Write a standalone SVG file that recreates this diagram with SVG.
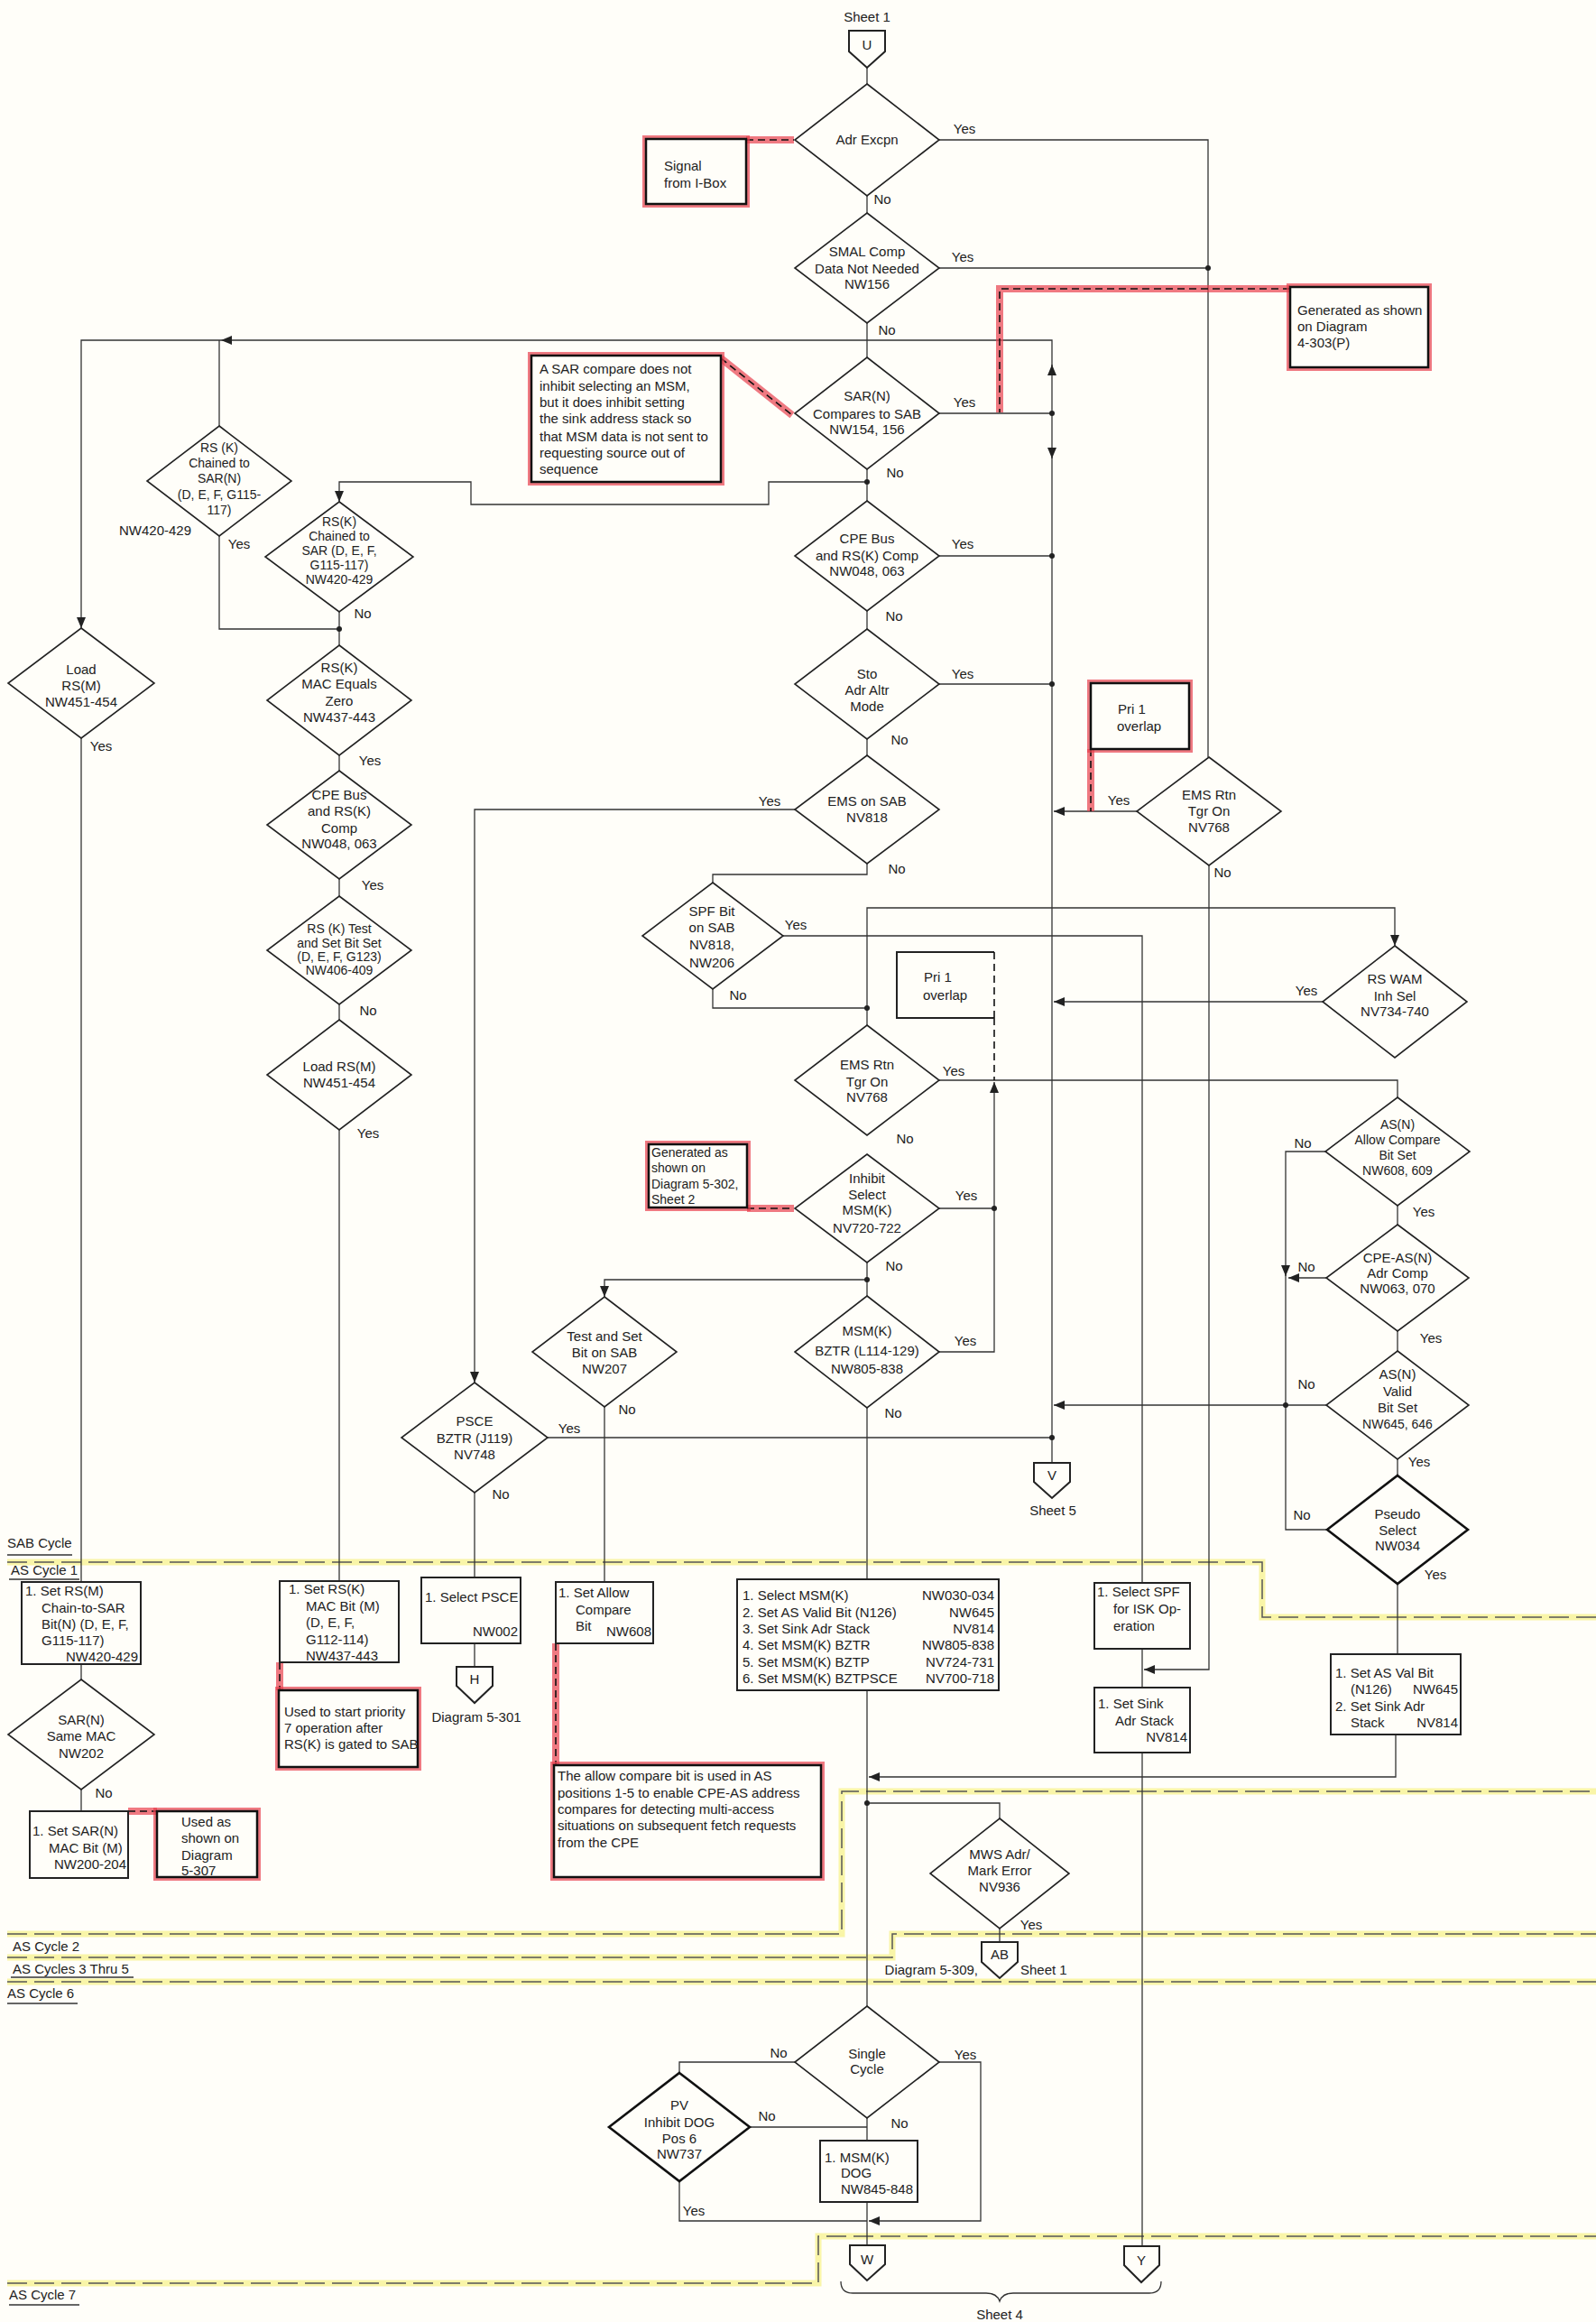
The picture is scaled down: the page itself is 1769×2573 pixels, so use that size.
<svg xmlns="http://www.w3.org/2000/svg" width="1769" height="2573" viewBox="0 0 1769 2573">
<style>
text{font-family:"Liberation Sans",Arial,sans-serif;font-size:15px;fill:#222}
.c{text-anchor:middle}
.e{text-anchor:end}
.s{font-size:14px}
.dm{fill:#fffef9;stroke:#222;stroke-width:1.6}
.dmb{fill:#fffef9;stroke:#111;stroke-width:2.6}
.bx{fill:#fffef9;stroke:#222;stroke-width:2}
.ln{fill:none;stroke:#333;stroke-width:1.3}
.rd{fill:none;stroke:#e8404f;stroke-width:8;stroke-opacity:.7}
.nb{fill:#fffef9;stroke:#111;stroke-width:2.5}
.dash{fill:none;stroke:#111;stroke-width:1.6;stroke-dasharray:8 5}
.yl{fill:none;stroke:#f6f07c;stroke-width:7;stroke-opacity:.65}
.kd{fill:none;stroke:#555;stroke-width:1.5;stroke-dasharray:22 8}
.dot{fill:#222}
.ul{fill:none;stroke:#333;stroke-width:1.3}
</style>
<defs>
<marker id="a" viewBox="0 0 12 10" refX="12" refY="5" markerWidth="12" markerHeight="10" markerUnits="userSpaceOnUse" orient="auto"><path d="M0,0 L12,5 L0,10 z" fill="#222"/></marker>
</defs>
<rect width="1769" height="2573" fill="#fffef9"/>

<g id="cycles">
<path class="yl" d="M8,1731 H1399 V1792 H1769"/><path class="kd" d="M8,1731 H1399 V1792 H1769"/>
<path class="yl" d="M8,2143 H933 V1985 H1769"/><path class="kd" d="M8,2143 H933 V1985 H1769"/>
<path class="yl" d="M8,2169 H989 V2143 H1769"/><path class="kd" d="M8,2169 H989 V2143 H1769"/>
<path class="yl" d="M8,2196 H1769"/><path class="kd" d="M8,2196 H1769"/>
<path class="yl" d="M8,2530 H907 V2478 H1769"/><path class="kd" d="M8,2530 H907 V2478 H1769"/>
<text x="8" y="1715">SAB Cycle</text><path class="ul" d="M8,1723 H80"/>
<text x="12" y="1745">AS Cycle 1</text><path class="ul" d="M10,1750 H88"/>
<text x="14" y="2162">AS Cycle 2</text>
<text x="14" y="2187">AS Cycles 3 Thru 5</text><path class="ul" d="M12,2191 H148"/>
<text x="8" y="2214">AS Cycle 6</text><path class="ul" d="M8,2220 H86"/>
<text x="10" y="2548">AS Cycle 7</text><path class="ul" d="M10,2554 H88"/>
</g>

<g id="connectors">
<path class="ln" d="M961,75 V93"/>
<path class="ln" d="M961,217 V236"/>
<path class="ln" d="M961,358 V396"/>
<path class="ln" d="M961,520 V555"/>
<path class="ln" d="M961,677 V697"/>
<path class="ln" d="M961,819 V837"/>
<path class="ln" d="M961,957 V969 H790 V978"/>
<path class="ln" d="M790,1096 V1117 H961"/>
<path class="ln" d="M961,1117 V1006 H1546 V1048" marker-end="url(#a)"/>
<path class="ln" d="M961,1117 V1136"/>
<path class="ln" d="M1041,1197 H1549 V1216"/>
<path class="ln" d="M1102,1339 V1199" marker-end="url(#a)"/>
<path class="dash" d="M1102,1128 V1197"/>
<path class="ln" d="M1041,1339 H1102"/>
<path class="ln" d="M1041,1498 H1102 V1339"/>
<path class="ln" d="M961,1399 V1436"/>
<path class="ln" d="M961,1418 H670 V1437" marker-end="url(#a)"/>
<path class="ln" d="M961,1560 V1750"/>
<path class="ln" d="M670,1559 V1753"/>
<path class="ln" d="M881,897 H526 V1532" marker-end="url(#a)"/>
<path class="ln" d="M607,1593 H1166"/>
<path class="ln" d="M526,1654 V1748"/>
<path class="ln" d="M868,1037 H1266 V1754"/>
<path class="ln" d="M526,1821 V1847"/>
<path class="ln" d="M961,1873 V2223"/>
<path class="ln" d="M961,1998 H1108 V2015"/>
<path class="ln" d="M1108,2137 V2152"/>
<path class="ln" d="M1547,1922 V1969 H963" marker-end="url(#a)"/>
<path class="ln" d="M1549,1755 V1833"/>
<path class="ln" d="M1266,1827 V1870"/>
<path class="ln" d="M1340,959 V1850 H1268" marker-end="url(#a)"/>
<path class="ln" d="M1266,1942 V2489"/>
<path class="ln" d="M881,2285 H753 V2297"/>
<path class="ln" d="M1041,2285 H1087 V2461 H963" marker-end="url(#a)"/>
<path class="ln" d="M961,2347 V2372"/>
<path class="ln" d="M831,2357 H961"/>
<path class="ln" d="M753,2417 V2461 H961"/>
<path class="ln" d="M961,2440 V2488"/>
<path class="ln" d="M1041,155 H1339 V839"/>
<path class="ln" d="M1041,297 H1339"/>
<path class="ln" d="M1166,458 V404" marker-end="url(#a)"/>
<path class="ln" d="M1166,406 V377 H245" marker-end="url(#a)"/>
<path class="ln" d="M245,377 H90 V696" marker-end="url(#a)"/>
<path class="ln" d="M243,472 V377"/>
<path class="ln" d="M1166,458 V508" marker-end="url(#a)"/>
<path class="ln" d="M1166,506 V1621"/>
<path class="ln" d="M1041,458 H1166"/>
<path class="ln" d="M1041,616 H1166"/>
<path class="ln" d="M1041,758 H1166"/>
<path class="ln" d="M1260,899 H1168" marker-end="url(#a)"/>
<path class="ln" d="M1466,1110 H1168" marker-end="url(#a)"/>
<path class="ln" d="M1470,1557 H1168" marker-end="url(#a)"/>
<path class="ln" d="M1469,1276 H1425 V1414" marker-end="url(#a)"/>
<path class="ln" d="M1425,1412 V1557"/>
<path class="ln" d="M1471,1695 H1425 V1557"/>
<path class="ln" d="M1470,1416 H1428" marker-end="url(#a)"/>
<path class="ln" d="M1549,1336 V1357"/>
<path class="ln" d="M1549,1475 V1497"/>
<path class="ln" d="M1549,1617 V1635"/>
<path class="ln" d="M243,594 V697 H376"/>
<path class="ln" d="M961,534 H852 V559 H522 V534 H376 V556" marker-end="url(#a)"/>
<path class="ln" d="M376,678 V715"/>
<path class="ln" d="M376,837 V854"/>
<path class="ln" d="M376,974 V993"/>
<path class="ln" d="M376,1113 V1130"/>
<path class="ln" d="M376,1252 V1752"/>
<path class="ln" d="M90,818 V1753"/>
<path class="ln" d="M90,1844 V1861"/>
<path class="ln" d="M90,1983 V2007"/>
<circle class="dot" cx="1339" cy="297" r="3"/>
<circle class="dot" cx="1166" cy="458" r="3"/>
<circle class="dot" cx="961" cy="534" r="3"/>
<circle class="dot" cx="1166" cy="616" r="3"/>
<circle class="dot" cx="1166" cy="758" r="3"/>
<circle class="dot" cx="961" cy="1117" r="3"/>
<circle class="dot" cx="1102" cy="1339" r="3"/>
<circle class="dot" cx="961" cy="1418" r="3"/>
<circle class="dot" cx="1166" cy="1593" r="3"/>
<circle class="dot" cx="1425" cy="1557" r="3"/>
<circle class="dot" cx="376" cy="697" r="3"/>
<circle class="dot" cx="961" cy="1998" r="3"/>
<g class="lbl">
<text class="c" x="1069" y="148">Yes</text><text class="c" x="978" y="226">No</text>
<text class="c" x="1067" y="290">Yes</text><text class="c" x="983" y="371">No</text>
<text class="c" x="1069" y="451">Yes</text><text class="c" x="992" y="529">No</text>
<text class="c" x="1067" y="608">Yes</text><text class="c" x="991" y="688">No</text>
<text class="c" x="1067" y="752">Yes</text><text class="c" x="997" y="825">No</text>
<text class="c" x="853" y="893">Yes</text><text class="c" x="994" y="968">No</text>
<text class="c" x="882" y="1030">Yes</text><text class="c" x="818" y="1108">No</text>
<text class="c" x="1057" y="1192">Yes</text><text class="c" x="1003" y="1267">No</text>
<text class="c" x="1071" y="1330">Yes</text><text class="c" x="991" y="1408">No</text>
<text class="c" x="1070" y="1491">Yes</text><text class="c" x="990" y="1571">No</text>
<text class="c" x="695" y="1567">No</text>
<text class="c" x="631" y="1588">Yes</text><text class="c" x="555" y="1661">No</text>
<text class="c" x="1240" y="892">Yes</text><text class="c" x="1355" y="972">No</text>
<text class="c" x="1448" y="1103">Yes</text>
<text class="c" x="1444" y="1272">No</text><text class="c" x="1578" y="1348">Yes</text>
<text class="c" x="1448" y="1409">No</text><text class="c" x="1586" y="1488">Yes</text>
<text class="c" x="1448" y="1539">No</text><text class="c" x="1573" y="1625">Yes</text>
<text class="c" x="1443" y="1684">No</text><text class="c" x="1591" y="1750">Yes</text>
<text class="c" x="265" y="608">Yes</text><text class="c" x="172" y="593">NW420-429</text>
<text class="c" x="402" y="685">No</text>
<text class="c" x="410" y="848">Yes</text>
<text class="c" x="413" y="986">Yes</text>
<text class="c" x="408" y="1125">No</text>
<text class="c" x="408" y="1261">Yes</text>
<text class="c" x="112" y="832">Yes</text>
<text class="c" x="115" y="1992">No</text>
<text class="c" x="1143" y="2138">Yes</text>
<text class="c" x="863" y="2280">No</text><text class="c" x="1070" y="2282">Yes</text><text class="c" x="997" y="2358">No</text>
<text class="c" x="850" y="2350">No</text><text class="c" x="769" y="2455">Yes</text>
</g>
</g>

<g id="annotation-links">
<path class="rd" d="M827,155 H880"/><path class="dash" d="M827,155 H880"/>
<path class="rd" d="M1430,320 H1108 V457"/><path class="dash" d="M1430,320 H1108 V457"/>
<path class="rd" d="M799,397 L878,460"/><path class="dash" d="M799,397 L878,460"/>
<path class="rd" d="M1209,830 V899"/><path class="dash" d="M1209,830 V899"/>
<path class="rd" d="M828,1339 H880"/><path class="dash" d="M828,1339 H880"/>
<path class="rd" d="M310,1842 V1873"/><path class="dash" d="M310,1842 V1873"/>
<path class="rd" d="M142,2007 H174"/><path class="dash" d="M142,2007 H174"/>
<path class="rd" d="M616,1821 V1956"/><path class="dash" d="M616,1821 V1956"/>
</g>

<g id="n-U"><path class="bx" d="M941,34 H981 V57 L961,75 L941,57 Z"/><text class="c" x="961" y="55">U</text><text class="c" x="961" y="24">Sheet 1</text></g>
<g id="n-adr"><polygon class="dm" points="961,93 1041,155 961,217 881,155"/><text class="c" x="961" y="160">Adr Excpn</text></g>
<g id="n-smal"><polygon class="dm" points="961,236 1041,297 961,358 881,297"/><text class="c" x="961" y="284">SMAL Comp</text><text class="c" x="961" y="303">Data Not Needed</text><text class="c" x="961" y="320">NW156</text></g>
<g id="n-sar"><polygon class="dm" points="961,396 1041,458 961,520 881,458"/><text class="c" x="961" y="444">SAR(N)</text><text class="c" x="961" y="464">Compares to SAB</text><text class="c" x="961" y="481">NW154, 156</text></g>
<g id="n-cpe"><polygon class="dm" points="961,555 1041,616 961,677 881,616"/><text class="c" x="961" y="602">CPE Bus</text><text class="c" x="961" y="621">and RS(K) Comp</text><text class="c" x="961" y="638">NW048, 063</text></g>
<g id="n-sto"><polygon class="dm" points="961,697 1041,758 961,819 881,758"/><text class="c" x="961" y="752">Sto</text><text class="c" x="961" y="770">Adr Altr</text><text class="c" x="961" y="788">Mode</text></g>
<g id="n-emssab"><polygon class="dm" points="961,837 1041,897 961,957 881,897"/><text class="c" x="961" y="893">EMS on SAB</text><text class="c" x="961" y="911">NV818</text></g>
<g id="n-spf"><polygon class="dm" points="790,978 868,1037 790,1096 712,1037"/><text class="c" x="789" y="1015">SPF Bit</text><text class="c" x="789" y="1033">on SAB</text><text class="c" x="789" y="1052">NV818,</text><text class="c" x="789" y="1072">NW206</text></g>
<g id="n-emsrtn1"><polygon class="dm" points="961,1136 1041,1197 961,1258 881,1197"/><text class="c" x="961" y="1185">EMS Rtn</text><text class="c" x="961" y="1204">Tgr On</text><text class="c" x="961" y="1221">NV768</text></g>
<g id="n-inhibit"><polygon class="dm" points="961,1279 1041,1339 961,1399 881,1339"/><text class="c" x="961" y="1311">Inhibit</text><text class="c" x="961" y="1329">Select</text><text class="c" x="961" y="1346">MSM(K)</text><text class="c" x="961" y="1366">NV720-722</text></g>
<g id="n-msmbztr"><polygon class="dm" points="961,1436 1041,1498 961,1560 881,1498"/><text class="c" x="961" y="1480">MSM(K)</text><text class="c" x="961" y="1502">BZTR (L114-129)</text><text class="c" x="961" y="1522">NW805-838</text></g>
<g id="n-testset"><polygon class="dm" points="670,1437 750,1498 670,1559 590,1498"/><text class="c" x="670" y="1486">Test and Set</text><text class="c" x="670" y="1504">Bit on SAB</text><text class="c" x="670" y="1522">NW207</text></g>
<g id="n-psce"><polygon class="dm" points="526,1532 607,1593 526,1654 445,1593"/><text class="c" x="526" y="1580">PSCE</text><text class="c" x="526" y="1599">BZTR (J119)</text><text class="c" x="526" y="1617">NV748</text></g>
<g id="n-emsrtn2"><polygon class="dm" points="1340,839 1420,899 1340,959 1260,899"/><text class="c" x="1340" y="886">EMS Rtn</text><text class="c" x="1340" y="904">Tgr On</text><text class="c" x="1340" y="922">NV768</text></g>
<g id="n-rswam"><polygon class="dm" points="1546,1048 1626,1110 1546,1172 1466,1110"/><text class="c" x="1546" y="1090">RS WAM</text><text class="c" x="1546" y="1109">Inh Sel</text><text class="c" x="1546" y="1126">NV734-740</text></g>
<g id="n-asallow"><polygon class="dm" points="1549,1216 1629,1276 1549,1336 1469,1276"/><text class="c s" x="1549" y="1251">AS(N)</text><text class="c s" x="1549" y="1268">Allow Compare</text><text class="c s" x="1549" y="1285">Bit Set</text><text class="c s" x="1549" y="1302">NW608, 609</text></g>
<g id="n-cpeas"><polygon class="dm" points="1549,1357 1628,1416 1549,1475 1470,1416"/><text class="c" x="1549" y="1399">CPE-AS(N)</text><text class="c" x="1549" y="1416">Adr Comp</text><text class="c" x="1549" y="1433">NW063, 070</text></g>
<g id="n-asvalid"><polygon class="dm" points="1549,1497 1628,1557 1549,1617 1470,1557"/><text class="c" x="1549" y="1528">AS(N)</text><text class="c" x="1549" y="1547">Valid</text><text class="c" x="1549" y="1565">Bit Set</text><text class="c s" x="1549" y="1583">NW645, 646</text></g>
<g id="n-pseudo"><polygon class="dmb" points="1549,1635 1627,1695 1549,1755 1471,1695"/><text class="c" x="1549" y="1683">Pseudo</text><text class="c" x="1549" y="1701">Select</text><text class="c" x="1549" y="1718">NW034</text></g>
<g id="n-rsk-sarn"><polygon class="dm" points="243,472 323,533 243,594 163,533"/><text class="c s" x="243" y="501">RS (K)</text><text class="c s" x="243" y="518">Chained to</text><text class="c s" x="243" y="535">SAR(N)</text><text class="c s" x="243" y="553">(D, E, F, G115-</text><text class="c s" x="243" y="570">117)</text></g>
<g id="n-rsk-sar"><polygon class="dm" points="376,556 458,617 376,678 294,617"/><text class="c s" x="376" y="583">RS(K)</text><text class="c s" x="376" y="599">Chained to</text><text class="c s" x="376" y="615">SAR (D, E, F,</text><text class="c s" x="376" y="631">G115-117)</text><text class="c s" x="376" y="647">NW420-429</text></g>
<g id="n-mac"><polygon class="dm" points="376,715 456,776 376,837 296,776"/><text class="c" x="376" y="745">RS(K)</text><text class="c" x="376" y="763">MAC Equals</text><text class="c" x="376" y="782">Zero</text><text class="c" x="376" y="800">NW437-443</text></g>
<g id="n-cpe2"><polygon class="dm" points="376,854 456,914 376,974 296,914"/><text class="c" x="376" y="886">CPE Bus</text><text class="c" x="376" y="904">and RS(K)</text><text class="c" x="376" y="923">Comp</text><text class="c" x="376" y="940">NW048, 063</text></g>
<g id="n-rsktest"><polygon class="dm" points="376,993 456,1053 376,1113 296,1053"/><text class="c s" x="376" y="1034">RS (K) Test</text><text class="c s" x="376" y="1050">and Set Bit Set</text><text class="c s" x="376" y="1065">(D, E, F, G123)</text><text class="c s" x="376" y="1080">NW406-409</text></g>
<g id="n-load2"><polygon class="dm" points="376,1130 456,1191 376,1252 296,1191"/><text class="c" x="376" y="1187">Load RS(M)</text><text class="c" x="376" y="1205">NW451-454</text></g>
<g id="n-load1"><polygon class="dm" points="90,696 171,757 90,818 9,757"/><text class="c" x="90" y="747">Load</text><text class="c" x="90" y="765">RS(M)</text><text class="c" x="90" y="783">NW451-454</text></g>
<g id="n-samemac"><polygon class="dm" points="90,1861 171,1922 90,1983 9,1922"/><text class="c" x="90" y="1911">SAR(N)</text><text class="c" x="90" y="1929">Same MAC</text><text class="c" x="90" y="1948">NW202</text></g>
<g id="n-mws"><polygon class="dm" points="1108,2015 1185,2076 1108,2137 1031,2076"/><text class="c" x="1108" y="2060">MWS Adr/</text><text class="c" x="1108" y="2078">Mark Error</text><text class="c" x="1108" y="2096">NV936</text></g>
<g id="n-single"><polygon class="dm" points="961,2223 1041,2285 961,2347 881,2285"/><text class="c" x="961" y="2281">Single</text><text class="c" x="961" y="2298">Cycle</text></g>
<g id="n-pv"><polygon class="dmb" points="753,2297 831,2357 753,2417 675,2357"/><text class="c" x="753" y="2338">PV</text><text class="c" x="753" y="2357">Inhibit DOG</text><text class="c" x="753" y="2375">Pos 6</text><text class="c" x="753" y="2392">NW737</text></g>

<g id="n-setrsm"><rect class="bx" x="24" y="1753" width="132" height="91"/><text x="28" y="1768">1. Set RS(M)</text><text x="46" y="1787">Chain-to-SAR</text><text x="46" y="1805">Bit(N) (D, E, F,</text><text x="46" y="1823">G115-117)</text><text class="e" x="153" y="1841">NW420-429</text></g>
<g id="n-setsarn"><rect class="bx" x="33" y="2007" width="109" height="74"/><text x="36" y="2034">1. Set SAR(N)</text><text x="54" y="2053">MAC Bit (M)</text><text x="60" y="2071">NW200-204</text></g>
<g id="n-setrsk"><rect class="bx" x="310" y="1752" width="132" height="90"/><text x="320" y="1766">1. Set RS(K)</text><text x="339" y="1785">MAC Bit (M)</text><text x="339" y="1803">(D, E, F,</text><text x="339" y="1822">G112-114)</text><text x="339" y="1840">NW437-443</text></g>
<g id="n-selpsce"><rect class="bx" x="467" y="1748" width="110" height="73"/><text x="471" y="1775">1. Select PSCE</text><text class="e" x="574" y="1813">NW002</text></g>
<g id="n-setallow"><rect class="bx" x="616" y="1753" width="108" height="68"/><text x="619" y="1770">1. Set Allow</text><text x="638" y="1789">Compare</text><text x="638" y="1807">Bit</text><text class="e" x="722" y="1813">NW608</text></g>
<g id="n-bigbox"><rect class="bx" x="817" y="1750" width="290" height="123"/>
<text x="823" y="1773">1. Select MSM(K)</text><text class="e" x="1102" y="1773">NW030-034</text>
<text x="823" y="1792">2. Set AS Valid Bit (N126)</text><text class="e" x="1102" y="1792">NW645</text>
<text x="823" y="1810">3. Set Sink Adr Stack</text><text class="e" x="1102" y="1810">NV814</text>
<text x="823" y="1828">4. Set MSM(K) BZTR</text><text class="e" x="1102" y="1828">NW805-838</text>
<text x="823" y="1847">5. Set MSM(K) BZTP</text><text class="e" x="1102" y="1847">NV724-731</text>
<text x="823" y="1865">6. Set MSM(K) BZTPSCE</text><text class="e" x="1102" y="1865">NV700-718</text></g>
<g id="n-selspf"><rect class="bx" x="1213" y="1754" width="106" height="73"/><text x="1216" y="1769">1. Select SPF</text><text x="1234" y="1788">for ISK Op-</text><text x="1234" y="1807">eration</text></g>
<g id="n-setsink"><rect class="bx" x="1213" y="1870" width="106" height="72"/><text x="1217" y="1893">1. Set Sink</text><text x="1236" y="1912">Adr Stack</text><text class="e" x="1316" y="1930">NV814</text></g>
<g id="n-setasval"><rect class="bx" x="1475" y="1833" width="144" height="89"/><text x="1480" y="1859">1. Set AS Val Bit</text><text x="1497" y="1877">(N126)</text><text class="e" x="1616" y="1877">NW645</text><text x="1480" y="1896">2. Set Sink Adr</text><text x="1497" y="1914">Stack</text><text class="e" x="1616" y="1914">NV814</text></g>
<g id="n-msmdog"><rect class="bx" x="909" y="2372" width="108" height="68"/><text x="914" y="2396">1. MSM(K)</text><text x="932" y="2413">DOG</text><text x="932" y="2431">NW845-848</text></g>
<g id="n-pri1b"><path class="bx" d="M1102,1055 H994 V1128 H1102"/><path class="dash" d="M1102,1055 V1128"/><text x="1024" y="1088">Pri 1</text><text x="1023" y="1108">overlap</text></g>

<g id="n-V"><path class="bx" d="M1146,1621 H1186 V1642 L1166,1660 L1146,1642 Z"/><text class="c" x="1166" y="1640">V</text><text class="c" x="1167" y="1679">Sheet 5</text></g>
<g id="n-H"><path class="bx" d="M506,1847 H546 V1868 L526,1887 L506,1868 Z"/><text class="c" x="526" y="1866">H</text><text class="c" x="528" y="1908">Diagram 5-301</text></g>
<g id="n-AB"><path class="bx" d="M1088,2152 H1128 V2174 L1108,2192 L1088,2174 Z"/><text class="c" x="1108" y="2171">AB</text><text class="e" x="1084" y="2188">Diagram 5-309,</text><text x="1131" y="2188">Sheet 1</text></g>
<g id="n-W"><path class="bx" d="M942,2488 H981 V2509 L961,2527 L942,2509 Z"/><text class="c" x="961" y="2509">W</text></g>
<g id="n-Y"><path class="bx" d="M1246,2489 H1285 V2510 L1265,2529 L1246,2510 Z"/><text class="c" x="1265" y="2510">Y</text></g>
<g id="brace"><path class="ln" d="M932,2528 Q932,2541 945,2541 H1093 Q1105,2541 1108,2550 Q1111,2541 1123,2541 H1274 Q1287,2541 1287,2528"/><text class="c" x="1108" y="2570">Sheet 4</text></g>

<g id="notes">
<g id="note-signal"><rect class="rd" x="716" y="154" width="111" height="72"/><rect class="nb" x="716" y="154" width="111" height="72"/><text x="736" y="189">Signal</text><text x="736" y="208">from I-Box</text></g>
<g id="note-gen4303"><rect class="rd" x="1430" y="318" width="153" height="89"/><rect class="nb" x="1430" y="318" width="153" height="89"/><text x="1438" y="349">Generated as shown</text><text x="1438" y="367">on Diagram</text><text x="1438" y="385">4-303(P)</text></g>
<g id="note-sar"><rect class="rd" x="589" y="394" width="210" height="140"/><rect class="nb" x="589" y="394" width="210" height="140"/>
<text x="598" y="414">A SAR compare does not</text><text x="598" y="433">inhibit selecting an MSM,</text><text x="598" y="451">but it does inhibit setting</text><text x="598" y="469">the sink address stack so</text><text x="598" y="489">that MSM data is not sent to</text><text x="598" y="507">requesting source out of</text><text x="598" y="525">sequence</text></g>
<g id="note-pri1"><rect class="rd" x="1209" y="757" width="109" height="73"/><rect class="nb" x="1209" y="757" width="109" height="73"/><text x="1239" y="791">Pri 1</text><text x="1238" y="810">overlap</text></g>
<g id="note-gen5302"><rect class="rd" x="719" y="1268" width="109" height="70"/><rect class="nb" x="719" y="1268" width="109" height="70"/><text class="s" x="722" y="1282">Generated as</text><text class="s" x="722" y="1299">shown on</text><text class="s" x="722" y="1317">Diagram 5-302,</text><text class="s" x="722" y="1334">Sheet 2</text></g>
<g id="note-priority"><rect class="rd" x="309" y="1873" width="154" height="85"/><rect class="nb" x="309" y="1873" width="154" height="85"/><text x="315" y="1902">Used to start priority</text><text x="315" y="1920">7 operation after</text><text x="315" y="1938">RS(K) is gated to SAB</text></g>
<g id="note-5307"><rect class="rd" x="174" y="2007" width="111" height="73"/><rect class="nb" x="174" y="2007" width="111" height="73"/><text x="201" y="2024">Used as</text><text x="201" y="2042">shown on</text><text x="201" y="2061">Diagram</text><text x="201" y="2078">5-307</text></g>
<g id="note-allow"><rect class="rd" x="614" y="1956" width="296" height="124"/><rect class="nb" x="614" y="1956" width="296" height="124"/>
<text x="618" y="1973">The allow compare bit is used in AS</text><text x="618" y="1992">positions 1-5 to enable CPE-AS address</text><text x="618" y="2010">compares for detecting multi-access</text><text x="618" y="2028">situations on subsequent fetch requests</text><text x="618" y="2047">from the CPE</text></g>
</g>
</svg>
